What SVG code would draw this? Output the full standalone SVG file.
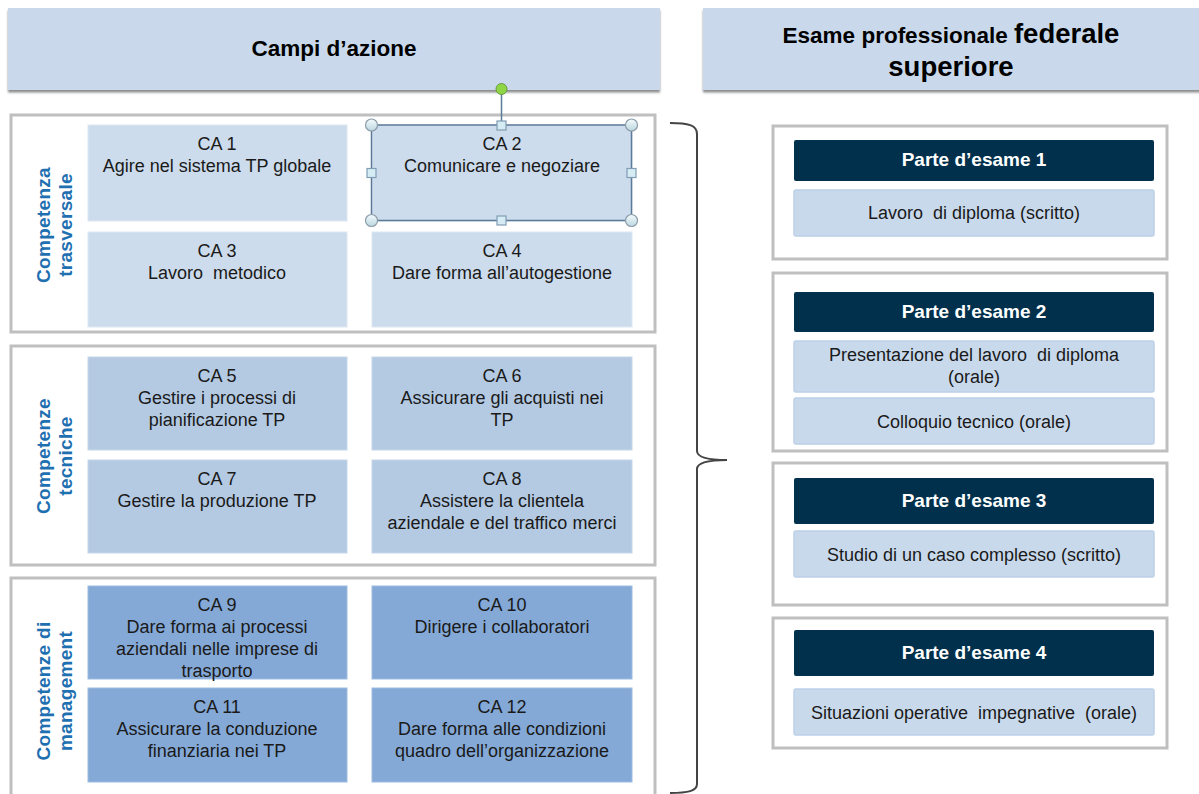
<svg xmlns="http://www.w3.org/2000/svg" width="1199" height="794" viewBox="0 0 1199 794">
<defs>
<filter id="sh" x="-5%" y="-10%" width="110%" height="130%">
<feDropShadow dx="0" dy="2.5" stdDeviation="1.2" flood-color="#000" flood-opacity="0.45"/>
</filter>
<linearGradient id="hg" x1="0" y1="0" x2="0" y2="1">
<stop offset="0" stop-color="#f4fbfd"/><stop offset="1" stop-color="#bcd7e0"/>
</linearGradient>
</defs>
<style>
.hdr{fill:#c9d9eb;filter:url(#sh)}
.grp{fill:#fff;stroke:#bfbfbf;stroke-width:3}
.c1{fill:#cddcec;stroke:#dce7f3;stroke-width:1}
.c2{fill:#b4cae3;stroke:#c5d6ea;stroke-width:1}
.c3{fill:#84a9d7;stroke:#9dbbe0;stroke-width:1}
.t{font-family:"Liberation Sans",Arial,sans-serif;font-size:18px;fill:#1a1a1a;text-anchor:middle}
.h{font-family:"Liberation Sans",Arial,sans-serif;font-weight:bold;fill:#000;text-anchor:middle}
.v{font-family:"Liberation Sans",Arial,sans-serif;font-weight:bold;font-size:19px;fill:#1f70b0;text-anchor:middle;letter-spacing:0.3px}
.dark{fill:#00304c}
.sub{fill:#c9d9ec;stroke:#bcd0e8;stroke-width:1.5}
.w{font-family:"Liberation Sans",Arial,sans-serif;font-weight:bold;font-size:19px;fill:#fff;text-anchor:middle}
.hc{fill:url(#hg);stroke:#8c9ca8;stroke-width:1.2}
.hs{fill:#d6ecf4;stroke:#7f9db3;stroke-width:1.2}
</style>

<g id="header-left">
<rect class="hdr" x="8" y="8" width="652" height="82"/>
<text class="h" x="334" y="56" font-size="22.5">Campi d’azione</text>
</g>
<g id="header-right">
<rect class="hdr" x="703" y="8" width="500" height="82"/>
<text class="h" x="951" y="43"><tspan font-size="22.5">Esame professionale </tspan><tspan font-size="27.5">federale</tspan></text>
<text class="h" x="951" y="76" font-size="27.5">superiore</text>
</g>

<g id="group-trasversale">
<rect class="grp" x="11" y="115" width="644" height="217"/>
<text class="v" transform="translate(50,225) rotate(-90)"><tspan x="0" y="0">Competenza</tspan><tspan x="0" y="22">trasversale</tspan></text>
</g>
<g id="group-tecniche">
<rect class="grp" x="11" y="346" width="644" height="219"/>
<text class="v" transform="translate(50,456) rotate(-90)"><tspan x="0" y="0">Competenze</tspan><tspan x="0" y="22">tecniche</tspan></text>
</g>
<g id="group-management">
<rect class="grp" x="11" y="578" width="644" height="240"/>
<text class="v" transform="translate(50,691) rotate(-90)"><tspan x="0" y="0">Competenze di</tspan><tspan x="0" y="22">management</tspan></text>
</g>

<g id="ca1"><rect class="c1" x="88" y="125" width="259" height="96"/>
<text class="t" x="217" y="150">CA 1</text><text class="t" x="217" y="172">Agire nel sistema TP globale</text></g>
<g id="ca2"><rect class="c1" x="372" y="125" width="260" height="96"/>
<text class="t" x="502" y="150">CA 2</text><text class="t" x="502" y="172">Comunicare e negoziare</text></g>
<g id="ca3"><rect class="c1" x="88" y="232" width="259" height="95"/>
<text class="t" x="217" y="257">CA 3</text><text class="t" x="217" y="279" xml:space="preserve">Lavoro  metodico</text></g>
<g id="ca4"><rect class="c1" x="372" y="232" width="260" height="95"/>
<text class="t" x="502" y="257">CA 4</text><text class="t" x="502" y="279">Dare forma all’autogestione</text></g>

<g id="ca5"><rect class="c2" x="88" y="357" width="259" height="93"/>
<text class="t" x="217" y="382">CA 5</text><text class="t" x="217" y="404">Gestire i processi di</text><text class="t" x="217" y="426">pianificazione TP</text></g>
<g id="ca6"><rect class="c2" x="372" y="357" width="260" height="93"/>
<text class="t" x="502" y="382">CA 6</text><text class="t" x="502" y="404">Assicurare gli acquisti nei</text><text class="t" x="502" y="426">TP</text></g>
<g id="ca7"><rect class="c2" x="88" y="460" width="259" height="93"/>
<text class="t" x="217" y="485">CA 7</text><text class="t" x="217" y="507">Gestire la produzione TP</text></g>
<g id="ca8"><rect class="c2" x="372" y="460" width="260" height="93"/>
<text class="t" x="502" y="485">CA 8</text><text class="t" x="502" y="507">Assistere la clientela</text><text class="t" x="502" y="529">aziendale e del traffico merci</text></g>

<g id="ca9"><rect class="c3" x="88" y="586" width="259" height="93"/>
<text class="t" x="217" y="611">CA 9</text><text class="t" x="217" y="633">Dare forma ai processi</text><text class="t" x="217" y="655">aziendali nelle imprese di</text><text class="t" x="217" y="677">trasporto</text></g>
<g id="ca10"><rect class="c3" x="372" y="586" width="260" height="93"/>
<text class="t" x="502" y="611">CA 10</text><text class="t" x="502" y="633">Dirigere i collaboratori</text></g>
<g id="ca11"><rect class="c3" x="88" y="688" width="259" height="94"/>
<text class="t" x="217" y="713">CA 11</text><text class="t" x="217" y="735">Assicurare la conduzione</text><text class="t" x="217" y="757">finanziaria nei TP</text></g>
<g id="ca12"><rect class="c3" x="372" y="688" width="260" height="94"/>
<text class="t" x="502" y="713">CA 12</text><text class="t" x="502" y="735">Dare forma alle condizioni</text><text class="t" x="502" y="757">quadro dell’organizzazione</text></g>

<g id="selection">
<line x1="501.5" y1="90" x2="501.5" y2="125" stroke="#5b7a99" stroke-width="1.5"/>
<rect x="371.5" y="125" width="260" height="95.5" fill="none" stroke="#5b7a99" stroke-width="1.5"/>
<circle cx="501.5" cy="89" r="5.5" fill="#8fd646" stroke="#6a9a40" stroke-width="1"/>
<circle class="hc" cx="371.5" cy="125" r="6"/>
<circle class="hc" cx="631.5" cy="125" r="6"/>
<circle class="hc" cx="371.5" cy="220.5" r="6"/>
<circle class="hc" cx="631.5" cy="220.5" r="6"/>
<rect class="hs" x="497" y="121" width="9" height="9"/>
<rect class="hs" x="497" y="216" width="9" height="9"/>
<rect class="hs" x="367" y="168.5" width="9" height="9"/>
<rect class="hs" x="627" y="168.5" width="9" height="9"/>
</g>

<g id="connectors">
<path d="M670,123 C688,123 697,125 697,134 L697,451 C697,457 706,460 727,460 C706,460 697,463 697,469 L697,784 C697,791 688,793 670,793" fill="none" stroke="#444" stroke-width="2"/>
</g>

<g id="exam1">
<rect class="grp" x="773" y="126" width="394" height="133"/>
<rect class="dark" x="794" y="140" width="360" height="41" rx="2"/>
<text class="w" x="974" y="166">Parte d’esame 1</text>
<rect class="sub" x="794" y="190" width="360" height="46" rx="2"/>
<text class="t" x="974" y="219" xml:space="preserve">Lavoro  di diploma (scritto)</text>
</g>
<g id="exam2">
<rect class="grp" x="773" y="273" width="394" height="178"/>
<rect class="dark" x="794" y="292" width="360" height="40" rx="2"/>
<text class="w" x="974" y="318">Parte d’esame 2</text>
<rect class="sub" x="794" y="341" width="360" height="51" rx="2"/>
<text class="t" x="974" y="361" xml:space="preserve">Presentazione del lavoro  di diploma</text>
<text class="t" x="974" y="383">(orale)</text>
<rect class="sub" x="794" y="398" width="360" height="46" rx="2"/>
<text class="t" x="974" y="428">Colloquio tecnico (orale)</text>
</g>
<g id="exam3">
<rect class="grp" x="773" y="463" width="394" height="142"/>
<rect class="dark" x="794" y="478" width="360" height="46" rx="2"/>
<text class="w" x="974" y="507">Parte d’esame 3</text>
<rect class="sub" x="794" y="531" width="360" height="46" rx="2"/>
<text class="t" x="974" y="561">Studio di un caso complesso (scritto)</text>
</g>
<g id="exam4">
<rect class="grp" x="773" y="618" width="394" height="130"/>
<rect class="dark" x="794" y="630" width="360" height="46" rx="2"/>
<text class="w" x="974" y="659">Parte d’esame 4</text>
<rect class="sub" x="794" y="689" width="360" height="46" rx="2"/>
<text class="t" x="974" y="719" xml:space="preserve">Situazioni operative  impegnative  (orale)</text>
</g>
</svg>
